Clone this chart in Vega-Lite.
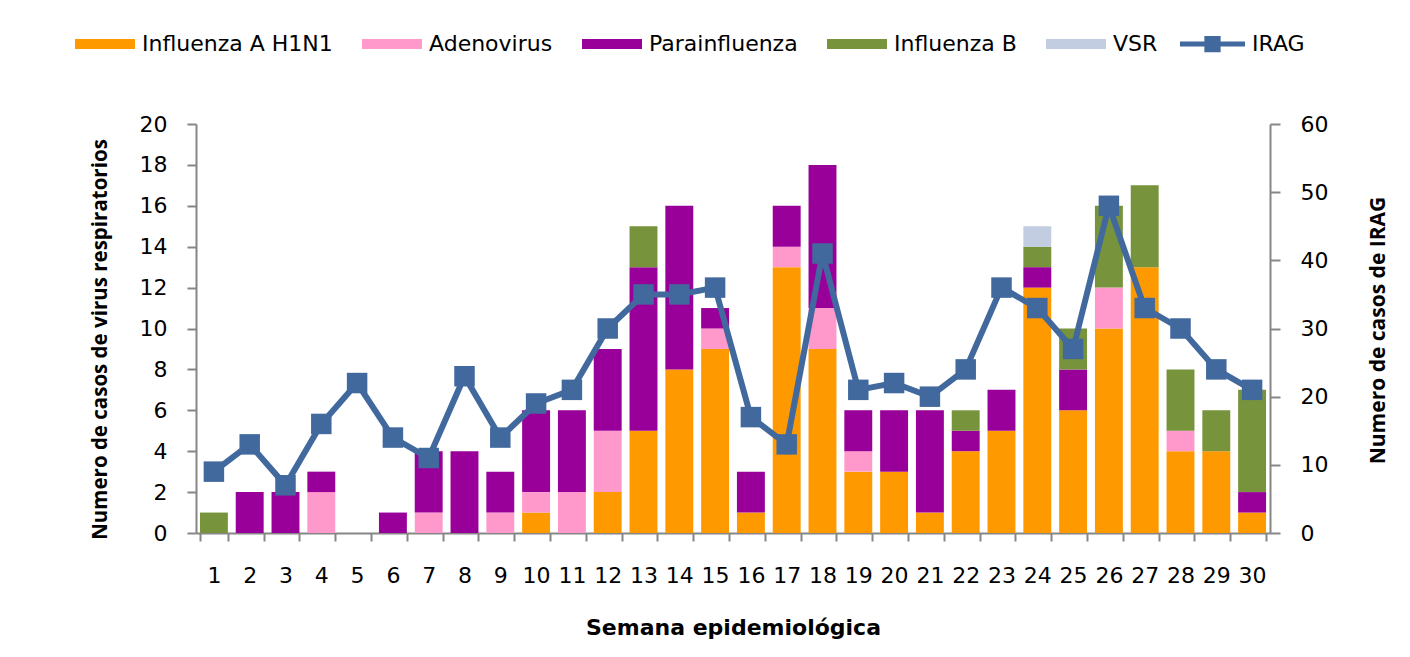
{
  "$schema": "https://vega.github.io/schema/vega-lite/v6.json",
  "autosize": {"type": "none"},
  "width": 1074,
  "height": 409,
  "padding": {"left": 196, "top": 124, "right": 140, "bottom": 124},
  "background": "white",
  "config": {
    "view": {"stroke": null},
    "axis": {
      "domainColor": "#868686",
      "domainWidth": 2,
      "tickColor": "#868686",
      "tickWidth": 2,
      "grid": false,
      "labelFont": "DejaVu Sans",
      "labelFontSize": 22,
      "labelColor": "#000000",
      "titleFont": "Open Sans",
      "titleFontWeight": "bold",
      "titleColor": "#000000"
    }
  },
  "datasets": {
    "virus": [
      {"semana": 1, "virus": "Influenza B", "casos": 1},
      {"semana": 2, "virus": "Parainfluenza", "casos": 2},
      {"semana": 3, "virus": "Parainfluenza", "casos": 2},
      {"semana": 4, "virus": "Adenovirus", "casos": 2},
      {"semana": 4, "virus": "Parainfluenza", "casos": 1},
      {"semana": 6, "virus": "Parainfluenza", "casos": 1},
      {"semana": 7, "virus": "Adenovirus", "casos": 1},
      {"semana": 7, "virus": "Parainfluenza", "casos": 3},
      {"semana": 8, "virus": "Parainfluenza", "casos": 4},
      {"semana": 9, "virus": "Adenovirus", "casos": 1},
      {"semana": 9, "virus": "Parainfluenza", "casos": 2},
      {"semana": 10, "virus": "Influenza A H1N1", "casos": 1},
      {"semana": 10, "virus": "Adenovirus", "casos": 1},
      {"semana": 10, "virus": "Parainfluenza", "casos": 4},
      {"semana": 11, "virus": "Adenovirus", "casos": 2},
      {"semana": 11, "virus": "Parainfluenza", "casos": 4},
      {"semana": 12, "virus": "Influenza A H1N1", "casos": 2},
      {"semana": 12, "virus": "Adenovirus", "casos": 3},
      {"semana": 12, "virus": "Parainfluenza", "casos": 4},
      {"semana": 13, "virus": "Influenza A H1N1", "casos": 5},
      {"semana": 13, "virus": "Parainfluenza", "casos": 8},
      {"semana": 13, "virus": "Influenza B", "casos": 2},
      {"semana": 14, "virus": "Influenza A H1N1", "casos": 8},
      {"semana": 14, "virus": "Parainfluenza", "casos": 8},
      {"semana": 15, "virus": "Influenza A H1N1", "casos": 9},
      {"semana": 15, "virus": "Adenovirus", "casos": 1},
      {"semana": 15, "virus": "Parainfluenza", "casos": 1},
      {"semana": 16, "virus": "Influenza A H1N1", "casos": 1},
      {"semana": 16, "virus": "Parainfluenza", "casos": 2},
      {"semana": 17, "virus": "Influenza A H1N1", "casos": 13},
      {"semana": 17, "virus": "Adenovirus", "casos": 1},
      {"semana": 17, "virus": "Parainfluenza", "casos": 2},
      {"semana": 18, "virus": "Influenza A H1N1", "casos": 9},
      {"semana": 18, "virus": "Adenovirus", "casos": 2},
      {"semana": 18, "virus": "Parainfluenza", "casos": 7},
      {"semana": 19, "virus": "Influenza A H1N1", "casos": 3},
      {"semana": 19, "virus": "Adenovirus", "casos": 1},
      {"semana": 19, "virus": "Parainfluenza", "casos": 2},
      {"semana": 20, "virus": "Influenza A H1N1", "casos": 3},
      {"semana": 20, "virus": "Parainfluenza", "casos": 3},
      {"semana": 21, "virus": "Influenza A H1N1", "casos": 1},
      {"semana": 21, "virus": "Parainfluenza", "casos": 5},
      {"semana": 22, "virus": "Influenza A H1N1", "casos": 4},
      {"semana": 22, "virus": "Parainfluenza", "casos": 1},
      {"semana": 22, "virus": "Influenza B", "casos": 1},
      {"semana": 23, "virus": "Influenza A H1N1", "casos": 5},
      {"semana": 23, "virus": "Parainfluenza", "casos": 2},
      {"semana": 24, "virus": "Influenza A H1N1", "casos": 12},
      {"semana": 24, "virus": "Parainfluenza", "casos": 1},
      {"semana": 24, "virus": "Influenza B", "casos": 1},
      {"semana": 24, "virus": "VSR", "casos": 1},
      {"semana": 25, "virus": "Influenza A H1N1", "casos": 6},
      {"semana": 25, "virus": "Parainfluenza", "casos": 2},
      {"semana": 25, "virus": "Influenza B", "casos": 2},
      {"semana": 26, "virus": "Influenza A H1N1", "casos": 10},
      {"semana": 26, "virus": "Adenovirus", "casos": 2},
      {"semana": 26, "virus": "Influenza B", "casos": 4},
      {"semana": 27, "virus": "Influenza A H1N1", "casos": 13},
      {"semana": 27, "virus": "Influenza B", "casos": 4},
      {"semana": 28, "virus": "Influenza A H1N1", "casos": 4},
      {"semana": 28, "virus": "Adenovirus", "casos": 1},
      {"semana": 28, "virus": "Influenza B", "casos": 3},
      {"semana": 29, "virus": "Influenza A H1N1", "casos": 4},
      {"semana": 29, "virus": "Influenza B", "casos": 2},
      {"semana": 30, "virus": "Influenza A H1N1", "casos": 1},
      {"semana": 30, "virus": "Parainfluenza", "casos": 1},
      {"semana": 30, "virus": "Influenza B", "casos": 5}
    ],
    "irag": [
      {"semana": 1, "irag": 9}, {"semana": 2, "irag": 13}, {"semana": 3, "irag": 7},
      {"semana": 4, "irag": 16}, {"semana": 5, "irag": 22}, {"semana": 6, "irag": 14},
      {"semana": 7, "irag": 11}, {"semana": 8, "irag": 23}, {"semana": 9, "irag": 14},
      {"semana": 10, "irag": 19}, {"semana": 11, "irag": 21}, {"semana": 12, "irag": 30},
      {"semana": 13, "irag": 35}, {"semana": 14, "irag": 35}, {"semana": 15, "irag": 36},
      {"semana": 16, "irag": 17}, {"semana": 17, "irag": 13}, {"semana": 18, "irag": 41},
      {"semana": 19, "irag": 21}, {"semana": 20, "irag": 22}, {"semana": 21, "irag": 20},
      {"semana": 22, "irag": 24}, {"semana": 23, "irag": 36}, {"semana": 24, "irag": 33},
      {"semana": 25, "irag": 27}, {"semana": 26, "irag": 48}, {"semana": 27, "irag": 33},
      {"semana": 28, "irag": 30}, {"semana": 29, "irag": 24}, {"semana": 30, "irag": 21}
    ]
  },
  "encoding": {
    "x": {
      "field": "semana",
      "type": "ordinal",
      "scale": {"domain": [1,2,3,4,5,6,7,8,9,10,11,12,13,14,15,16,17,18,19,20,21,22,23,24,25,26,27,28,29,30], "paddingInner": 0.22, "paddingOuter": 0.11},
      "axis": {
        "title": "Semana epidemiológica",
        "titleFont": "DejaVu Sans",
        "titleFontSize": 22,
        "titleX": 537,
        "titleY": 94,
        "titleBaseline": "middle",
        "titleAlign": "center",
        "labelAngle": 0,
        "tickBand": "extent",
        "tickSize": 8,
        "labelPadding": 24
      }
    }
  },
  "layer": [
    {
      "data": {"name": "virus"},
      "transform": [
        {"calculate": "indexof(['Influenza A H1N1', 'Adenovirus', 'Parainfluenza', 'Influenza B', 'VSR'], datum.virus)", "as": "orden"}
      ],
      "mark": {"type": "bar"},
      "encoding": {
        "y": {
          "field": "casos",
          "type": "quantitative",
          "aggregate": "sum",
          "stack": "zero",
          "scale": {"domain": [0, 20], "nice": false},
          "axis": {
            "title": "Numero de casos de virus respiratorios",
            "titleFontSize": 20.5,
            "titleX": -96,
            "titleY": 215,
            "titleAngle": -90,
            "titleBaseline": "middle",
            "titleAlign": "center",
            "values": [0,2,4,6,8,10,12,14,16,18,20],
            "tickSize": 9,
            "labelPadding": 20
          }
        },
        "order": {"field": "orden", "type": "quantitative", "sort": "ascending"},
        "color": {
          "field": "virus",
          "type": "nominal",
          "scale": {
            "domain": ["Influenza A H1N1", "Adenovirus", "Parainfluenza", "Influenza B", "VSR"],
            "range": ["#FF9900", "#FF99CC", "#990099", "#77933C", "#C3CDE2"]
          },
          "legend": {
            "orient": "none",
            "legendX": -121,
            "legendY": -110,
            "direction": "horizontal",
            "title": null,
            "padding": 0,
            "symbolType": "M-1,-0.17H1V0.17H-1Z",
            "symbolSize": 3600,
            "symbolStrokeWidth": 0,
            "symbolOpacity": 1,
            "labelFont": "DejaVu Sans",
            "labelFontSize": 22,
            "labelLimit": 0,
            "labelColor": "#000000",
            "labelOffset": 7,
            "columnPadding": 29
          }
        }
      }
    },
    {
      "data": {"name": "irag"},
      "encoding": {
        "y": {
          "field": "irag",
          "type": "quantitative",
          "scale": {"domain": [0, 60], "nice": false},
          "axis": {
            "orient": "right",
            "title": "Numero de casos de IRAG",
            "titleFontSize": 21,
            "titleX": 108,
            "titleY": 206,
            "titleAngle": -90,
            "titleBaseline": "middle",
            "titleAlign": "center",
            "values": [0,10,20,30,40,50,60],
            "tickSize": 10,
            "labelPadding": 20
          }
        }
      },
      "layer": [
        {
          "mark": {"type": "line", "color": "#41699E", "strokeWidth": 6}
        },
        {
          "mark": {"type": "point", "shape": "square", "filled": true, "size": 420, "opacity": 1},
          "encoding": {
            "fill": {
              "datum": "IRAG",
              "type": "nominal",
              "scale": {"domain": ["IRAG"], "range": ["#41699E"]},
              "legend": {
                "orient": "none",
                "legendX": 984,
                "legendY": -112.5,
                "title": null,
                "padding": 0,
                "symbolType": "M-1,-0.08H-0.25H-0.25V-0.25H0.25V-0.08H1V0.08H0.25V0.25H-0.25V0.08H-1Z",
                "symbolSize": 4225,
                "symbolStrokeWidth": 0,
                "symbolOpacity": 1,
                "labelFont": "DejaVu Sans",
                "labelFontSize": 22,
                "labelColor": "#000000",
                "labelOffset": 7
              }
            }
          }
        }
      ]
    }
  ],
  "resolve": {"scale": {"y": "independent"}}
}
